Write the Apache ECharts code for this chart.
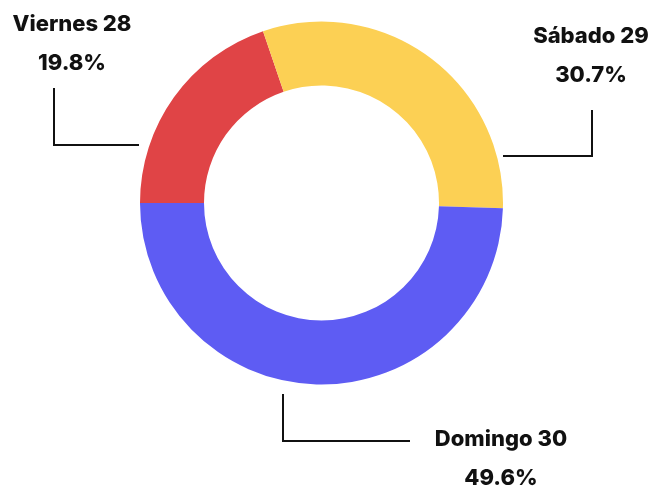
<!DOCTYPE html>
<html lang="es">
<head>
    <meta charset="UTF-8">
    <title>Asistencia por día</title>
    <script src="https://cdn.jsdelivr.net/npm/echarts@6/dist/echarts.min.js"></script>
    <style>
        * { margin: 0; padding: 0; box-sizing: border-box; }
        body { background: #ffffff; }
        #chart { width: 654px; height: 489px; }
    </style>
</head>
<body>
    <div id="chart"></div>
    <script type="text/javascript">
        // Datos
        const days = ['Viernes 28', 'Sábado 29', 'Domingo 30'];
        const shares = [19.8, 30.7, 49.6];
        const colors = ['#e04446', '#fcd054', '#5e5cf3'];

        // Label placement (label anchor + guide line, in px)
        const labelSpots = [
            { x: 72, y: 44, line: [[139, 145], [54, 145], [54, 88]] },
            { x: 591, y: 56, line: [[503, 156], [592, 156], [592, 110]] },
            { x: 501, y: 459, line: [[283, 394], [283, 441], [410, 441]] }
        ];

        const chart = echarts.init(document.getElementById('chart'));

        chart.setOption({
            animation: false,
            series: [{
                type: 'pie',
                center: [321.5, 203],
                radius: [117.5, 181.5],
                startAngle: 180,
                clockwise: true,
                avoidLabelOverlap: false,
                data: days.map((d, i) => ({
                    name: d,
                    value: shares[i],
                    itemStyle: { color: colors[i] }
                })),
                label: {
                    show: true,
                    formatter: p => p.name + '\n' + p.value.toFixed(1) + '%',
                    fontFamily: 'Inter',
                    fontWeight: 800,
                    fontSize: 22,
                    lineHeight: 39,
                    color: '#111111',
                    align: 'center'
                },
                labelLine: {
                    show: true,
                    lineStyle: { color: '#111111', width: 2 }
                },
                labelLayout: function (params) {
                    const s = labelSpots[params.dataIndex];
                    return {
                        x: s.x,
                        y: s.y,
                        align: 'center',
                        verticalAlign: 'middle',
                        labelLinePoints: s.line
                    };
                }
            }]
        });

        window.addEventListener('resize', function () {
            chart.resize();
        });
    </script>
</body>
</html>
